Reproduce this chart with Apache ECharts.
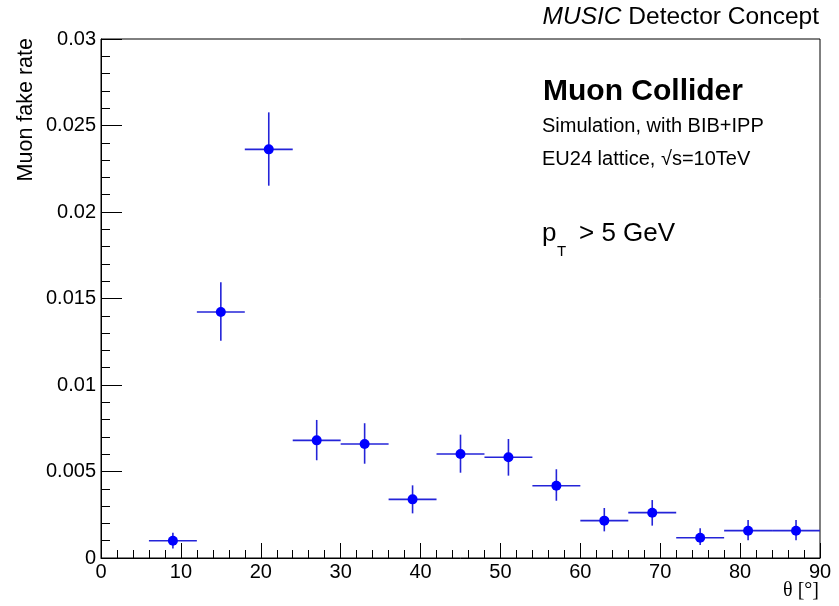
<!DOCTYPE html>
<html>
<head>
<meta charset="utf-8">
<script src="https://cdn.jsdelivr.net/npm/echarts@6/dist/echarts.min.js"></script>
<style>html,body{margin:0;padding:0;background:#fff}#c{width:839px;height:606px}</style>
</head>
<body>
<div id="c"></div>
<script>
// ---- data ----
const thetaCenters = [9, 15, 21, 27, 33, 39, 45, 51, 57, 63, 69, 75, 81, 87];
const binHalfWidth = [3, 3, 3, 3, 3, 3, 3, 3, 3, 3, 3, 3, 3, 3];
const fakeRate = [0.00100, 0.01422, 0.02362, 0.00680, 0.00659, 0.00339, 0.00601, 0.00582, 0.00418, 0.00216, 0.00262, 0.00117, 0.00158, 0.00158];
const errLow  = [0.00045, 0.00166, 0.00210, 0.00115, 0.00114, 0.00081, 0.00108, 0.00106, 0.00087, 0.00062, 0.00075, 0.00042, 0.00056, 0.00056];
const errHigh = [0.00046, 0.00172, 0.00214, 0.00118, 0.00120, 0.00081, 0.00112, 0.00106, 0.00095, 0.00073, 0.00073, 0.00055, 0.00062, 0.00062];
const xTicks = [0, 10, 20, 30, 40, 50, 60, 70, 80, 90];
const yTicks = [0, 0.005, 0.01, 0.015, 0.02, 0.025, 0.03];

const FONT = '"Liberation Sans", Arial, Helvetica, sans-serif';
const points = thetaCenters.map((x, i) => [x, fakeRate[i], binHalfWidth[i], errLow[i], errHigh[i]]);

const chart = echarts.init(document.getElementById('c'), null, {renderer: 'canvas'});
const fmtY = v => (+v.toFixed(4)).toString();
chart.setOption({
  animation: false,
  backgroundColor: '#fff',
  grid: {left: 101, right: 19, top: 39, bottom: 48, show: true, borderColor: '#000', borderWidth: 1, backgroundColor: 'transparent'},
  xAxis: {
    type: 'value', min: xTicks[0], max: xTicks[xTicks.length - 1], interval: 10,
    axisLine: {lineStyle: {color: '#000', width: 1}},
    axisTick: {inside: true, length: 15, lineStyle: {color: '#000'}},
    minorTick: {show: true, splitNumber: 5, length: 8, lineStyle: {color: '#000'}},
    splitLine: {show: false},
    axisLabel: {color: '#000', fontSize: 20, fontFamily: FONT, margin: 4, showMinLabel: true, showMaxLabel: true}
  },
  yAxis: {
    type: 'value', min: yTicks[0], max: yTicks[yTicks.length - 1], interval: 0.005,
    axisLine: {show: true, lineStyle: {color: '#000', width: 1}},
    axisTick: {show: true, inside: true, length: 21, lineStyle: {color: '#000'}},
    minorTick: {show: true, splitNumber: 5, length: 9, lineStyle: {color: '#000'}},
    splitLine: {show: false},
    axisLabel: {color: '#000', fontSize: 20, fontFamily: FONT, margin: 5, formatter: fmtY}
  },
  series: [{
    type: 'custom',
    data: points,
    clip: false,
    renderItem: (params, api) => {
      const x = api.value(0), y = api.value(1), hw = api.value(2), lo = api.value(3), hi = api.value(4);
      const c = api.coord([x, y]);
      const l = api.coord([x - hw, y]);
      const r = api.coord([x + hw, y]);
      const t = api.coord([x, y + hi]);
      const b = api.coord([x, y - lo]);
      const ls = {stroke: '#2424d8', lineWidth: 1.6};
      return {type: 'group', children: [
        {type: 'line', shape: {x1: l[0], y1: l[1], x2: r[0], y2: r[1]}, style: ls},
        {type: 'line', shape: {x1: t[0], y1: t[1], x2: b[0], y2: b[1]}, style: ls},
        {type: 'circle', shape: {cx: c[0], cy: c[1], r: 5}, style: {fill: '#0000ff'}}
      ]};
    }
  }],
  graphic: [
    {type: 'text', x: 819, y: 17, style: {text: '{i|MUSIC} Detector Concept', align: 'right', textAlign: 'right', verticalAlign: 'middle', textVerticalAlign: 'middle', font: '24.5px ' + FONT, fill: '#000', rich: {i: {fontStyle: 'italic', fontSize: 24.5, fontFamily: FONT}}}},
    {type: 'text', x: 543, y: 92, style: {text: 'Muon Collider', align: 'left', verticalAlign: 'middle', textVerticalAlign: 'middle', font: 'bold 30px ' + FONT, fill: '#000'}},
    {type: 'text', x: 542, y: 126, style: {text: 'Simulation, with BIB+IPP', align: 'left', verticalAlign: 'middle', textVerticalAlign: 'middle', font: '20px ' + FONT, fill: '#000'}},
    {type: 'text', x: 542, y: 159.5, style: {text: 'EU24 lattice, \u221As=10TeV', align: 'left', verticalAlign: 'middle', textVerticalAlign: 'middle', font: '20px ' + FONT, fill: '#000'}},
    {type: 'text', x: 542, y: 233.6, style: {text: 'p', align: 'left', verticalAlign: 'middle', textVerticalAlign: 'middle', font: '26px ' + FONT, fill: '#000'}},
    {type: 'text', x: 557, y: 252, style: {text: 'T', align: 'left', verticalAlign: 'middle', textVerticalAlign: 'middle', font: '15px ' + FONT, fill: '#000'}},
    {type: 'text', x: 579, y: 233.6, style: {text: '> 5 GeV', align: 'left', verticalAlign: 'middle', textVerticalAlign: 'middle', font: '26px ' + FONT, fill: '#000'}},
    {type: 'text', x: 26, y: 38, rotation: Math.PI / 2, style: {text: 'Muon fake rate', align: 'right', textAlign: 'right', verticalAlign: 'middle', textVerticalAlign: 'middle', font: '21.5px ' + FONT, fill: '#000'}},
    {type: 'text', x: 819, y: 591, style: {text: '\u03B8 [\u00B0]', align: 'right', textAlign: 'right', verticalAlign: 'middle', textVerticalAlign: 'middle', font: '20px "Liberation Serif", "Times New Roman", serif', fill: '#000'}}
  ]
});
</script>
</body>
</html>
